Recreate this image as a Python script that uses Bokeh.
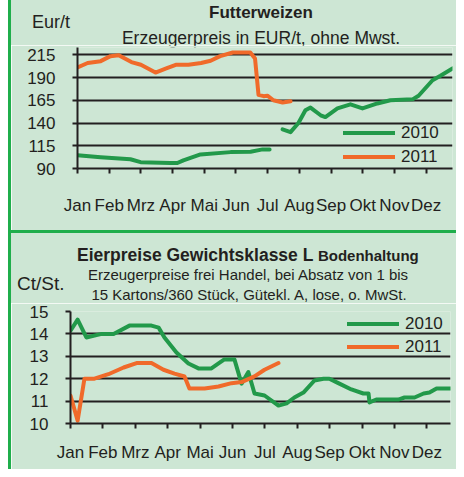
from bokeh.plotting import figure
from bokeh.models import Range1d, FixedTicker, Legend, LegendItem, Spacer, Div
from bokeh.layouts import row, column
from bokeh.embed import file_html
from bokeh.resources import INLINE

nan = float("nan")

months = ["Jan", "Feb", "Mrz", "Apr", "Mai", "Jun", "Jul", "Aug", "Sep", "Okt", "Nov", "Dez"]
month_pos = list(range(12))

# Futterweizen (EUR/t), x in months from start of January
wheat_x_2010 = [0, 0.73, 1.67, 1.99, 2.93, 3.15, 3.34, 3.88, 4.83, 5.46, 5.84, 6.06, nan,
                6.47, 6.72, 6.97, 7.19, 7.35, 7.67, 7.82, 8.2, 8.61, 8.99, 9.46, 9.87,
                10.57, 10.76, 11.2, 11.45, 11.83]
wheat_2010 = [104.6, 102.4, 100.2, 97, 96, 96, 99, 105.5, 108, 108.5, 111, 111, nan,
              133, 130, 140, 154, 157, 148.5, 146.5, 156, 160.5, 156, 161.5, 165,
              166, 170, 187, 192, 200]
wheat_x_2011 = [0, 0.32, 0.73, 1.04, 1.3, 1.7, 2.0, 2.46, 2.8, 3.1, 3.5, 3.9, 4.2, 4.5,
                4.9, 5.45, 5.6, 5.71, 5.87, 5.99, 6.18, 6.47, 6.72]
wheat_2011 = [201, 206, 208, 213.5, 214.5, 207, 204, 195.5, 200, 204, 204, 206, 208.5, 213.5,
              217.5, 217.5, 211, 171, 169.5, 170, 165, 162.5, 164]
wheat_ticks = [90, 115, 140, 165, 190, 215]

# Eierpreise (Ct/St.)
egg_x_2010 = [0, 0.22, 0.49, 0.96, 1.33, 1.82, 2.5, 2.72, 2.9, 3.27, 3.64, 3.95, 4.35, 4.57,
              4.75, 5.06, 5.28, 5.49, 5.68, 5.99, 6.42, 6.67, 6.91, 7.19, 7.53, 7.81, 7.99,
              8.3, 8.67, 9.04, 9.2, 9.23, 9.44, 10.12, 10.31, 10.62, 10.9, 11.08, 11.3, 11.76]
egg_2010 = [14.15, 14.64, 13.84, 14.0, 14.0, 14.37, 14.37, 14.28, 13.84, 13.17, 12.68, 12.46,
            12.46, 12.68, 12.86, 12.86, 11.78, 12.3, 11.34, 11.25, 10.8, 10.9, 11.16, 11.38,
            11.92, 12.0, 12.0, 11.78, 11.52, 11.34, 11.34, 10.94, 11.07, 11.07, 11.16, 11.16,
            11.34, 11.38, 11.56, 11.56]
egg_x_2011 = [0, 0.22, 0.43, 0.74, 1.17, 1.64, 2.04, 2.5, 2.87, 3.21, 3.52, 3.67, 4.14, 4.57,
              4.97, 5.28, 5.68, 5.99, 6.42]
egg_2011 = [11.25, 10.13, 12.0, 12.0, 12.2, 12.5, 12.7, 12.7, 12.4, 12.23, 12.1, 11.56, 11.56,
            11.65, 11.8, 11.85, 12.1, 12.4, 12.7]
egg_ticks = [10, 11, 12, 13, 14, 15]

BG = "#cde6d4"
BORDER = "#1fae4b"
GREEN = "#22994a"
ORANGE = "#f06a2a"
INK = "#231f20"
FONT = "Liberation Sans"
W = 445


def header(h, items):
    parts = ['<div style="position:relative;width:%dpx;height:%dpx;font-family:\'Liberation Sans\',Arial,sans-serif;color:%s;">' % (W, h, INK)]
    for x, y, txt, size, bold, anchor in items:
        tx = "-50%" if anchor == "center" else "0"
        parts.append('<div style="position:absolute;left:%spx;top:%spx;transform:translate(%s,-50%%);'
                     'font-size:%spx;font-weight:%s;white-space:nowrap;line-height:1.2;">%s</div>'
                     % (x, y, tx, size, "bold" if bold else "normal", txt))
    parts.append("</div>")
    return Div(text="".join(parts), width=W, height=h, margin=0,
               styles={"background-color": BG})


def make_fig(h, xr, yr, ml, mr, mt, mb, yticks, ystandoff, xstandoff):
    p = figure(width=W, height=h, x_range=Range1d(*xr), y_range=Range1d(*yr),
               output_backend="svg", toolbar_location=None,
               min_border_left=ml, min_border_right=mr, min_border_top=mt, min_border_bottom=mb)
    p.background_fill_color = BG
    p.border_fill_color = BG
    p.outline_line_color = None
    p.xgrid.visible = False
    p.ygrid.ticker = FixedTicker(ticks=yticks)
    p.ygrid.grid_line_color = INK
    p.ygrid.grid_line_width = 1.8
    p.yaxis.ticker = FixedTicker(ticks=yticks)
    p.xaxis.ticker = FixedTicker(ticks=month_pos)
    p.xaxis.major_label_overrides = {i: m for i, m in zip(month_pos, months)}
    for ax in (p.xaxis, p.yaxis):
        ax.axis_line_color = INK
        ax.axis_line_width = 2
        ax.major_tick_line_color = INK
        ax.major_tick_line_width = 2
        ax.major_tick_in = 0
        ax.major_tick_out = 5
        ax.minor_tick_line_color = None
        ax.major_label_text_font = FONT
        ax.major_label_text_font_size = "17px"
        ax.major_label_text_color = INK
    p.yaxis.major_label_standoff = ystandoff
    p.xaxis.major_label_standoff = xstandoff
    return p


def make_legend(r_a, r_b, loc, spacing):
    return Legend(items=[LegendItem(label="2010", renderers=[r_a]), LegendItem(label="2011", renderers=[r_b])],
                  location=loc, glyph_width=52, glyph_height=21, label_standoff=6, spacing=spacing,
                  padding=0, margin=0, background_fill_alpha=0, border_line_color=None,
                  label_text_font=FONT, label_text_font_size="17px", label_text_color=INK)


# ---- top panel ----
d1 = header(45, [
    (250, 13, "Futterweizen", 17, True, "center"),
    (21, 23, "Eur/t", 18, False, "left"),
    (250, 37.5, "Erzeugerpreis in EUR/t, ohne Mwst.", 17.5, False, "center"),
])
p1 = make_fig(185, (0, 11.83), (90, 223), 66, 4, 2, 62, wheat_ticks, 17, 22)
r1a = p1.line(wheat_x_2010, wheat_2010, line_color=GREEN, line_width=4, line_join="round", line_cap="round")
r1b = p1.line(wheat_x_2011, wheat_2011, line_color=ORANGE, line_width=4, line_join="round", line_cap="round")
p1.add_layout(make_legend(r1a, r1b, (266, 1), 3))

# ---- bottom panel ----
d2 = header(70, [
    (66, 22, 'Eierpreise Gewichtsklasse L <span style="font-size:15px">Bodenhaltung</span>', 17.5, True, "left"),
    (6, 51, "Ct/St.", 19, False, "left"),
    (237, 42, "Erzeugerpreise frei Handel, bei Absatz von 1 bis", 15, False, "center"),
    (238, 61.5, "15 Kartons/360 Stück, Gütekl. A, lose, o. MwSt.", 15, False, "center"),
])
p2 = make_fig(166, (0, 11.73), (10, 15), 59, 6, 8, 46, egg_ticks, 17, 14)
r2a = p2.line(egg_x_2010, egg_2010, line_color=GREEN, line_width=4, line_join="round", line_cap="round")
r2b = p2.line(egg_x_2011, egg_2011, line_color=ORANGE, line_width=4, line_join="round", line_cap="round")
p2.add_layout(make_legend(r2a, r2b, (277, 66), 2))

margin = Spacer(width=8, height=469, margin=0)
left_border = Spacer(width=3, height=469, margin=0, styles={"background-color": BORDER})
separator = Spacer(width=W, height=3, margin=0, styles={"background-color": BORDER})
layout = row(margin, left_border, column(column(d1, p1), separator, column(d2, p2)))

open("out.html", "w").write(file_html(layout, INLINE))
